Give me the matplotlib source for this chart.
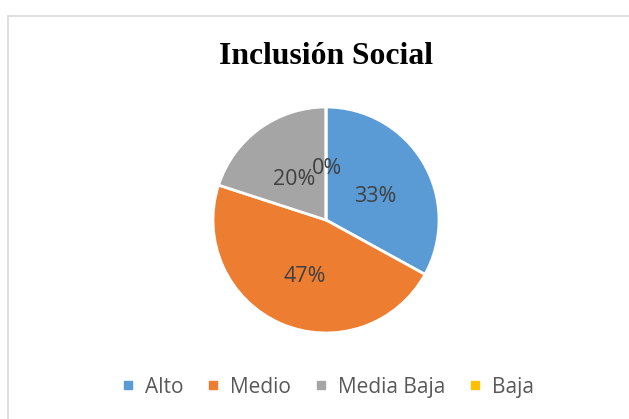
import matplotlib
matplotlib.use("Agg")
import matplotlib.pyplot as plt
from matplotlib.lines import Line2D
from matplotlib.transforms import ScaledTranslation

# Data
categories = ["Alto", "Medio", "Media Baja", "Baja"]
values = [33, 47, 20, 0]
colors = ["#5B9BD5", "#ED7D31", "#A5A5A5", "#FFC000"]
title = "Inclusión Social"

W, H = 629, 419
fig = plt.figure(figsize=(W / 100, H / 100), dpi=100)
fig.patch.set_facecolor("white")

# Chart-area border (top and left edges visible)
fig.add_artist(Line2D([8 / W, 8 / W], [0, 1 - 16 / H], color="#D9D9D9", lw=1.2,
                      transform=fig.transFigure))
fig.add_artist(Line2D([8 / W, 1], [1 - 16 / H, 1 - 16 / H], color="#D9D9D9", lw=1.2,
                      transform=fig.transFigure))

# Pie plot area
cx, cy, r = 326, 220, 113
ax = fig.add_axes([(cx - r) / W, (H - cy - r) / H, 2 * r / W, 2 * r / H])
wedges, texts, autotexts = ax.pie(
    values,
    colors=colors,
    startangle=90,
    counterclock=False,
    autopct="%.0f%%",
    pctdistance=0.5,
    wedgeprops=dict(edgecolor="white", linewidth=2),
    textprops=dict(color="#404040", fontsize=15.5, family="Open Sans"),
)
# nudge the percentage labels slightly downward
for t in autotexts:
    t.set_transform(t.get_transform() + ScaledTranslation(0.01, -0.05, fig.dpi_scale_trans))
ax.set_xlim(-1.0, 1.0)
ax.set_ylim(-1.0, 1.0)
ax.set_aspect("equal")
ax.axis("off")

fig.text(cx / W, 1 - 56 / H, title, ha="center", va="center",
         fontsize=22.8, fontweight="bold", family="Liberation Serif", color="black")

handles = [Line2D([], [], marker="s", linestyle="", color=c, markersize=6) for c in colors]
leg = fig.legend(handles, categories, loc="center", bbox_to_anchor=(328 / W, 1 - 387 / H),
                 ncol=4, frameon=False, handlelength=0.6, handletextpad=0.5,
                 columnspacing=1.15, prop=dict(family="Open Sans", size=15))
for t in leg.get_texts():
    t.set_color("#595959")

fig.savefig("out.png", dpi=100, facecolor="white")
